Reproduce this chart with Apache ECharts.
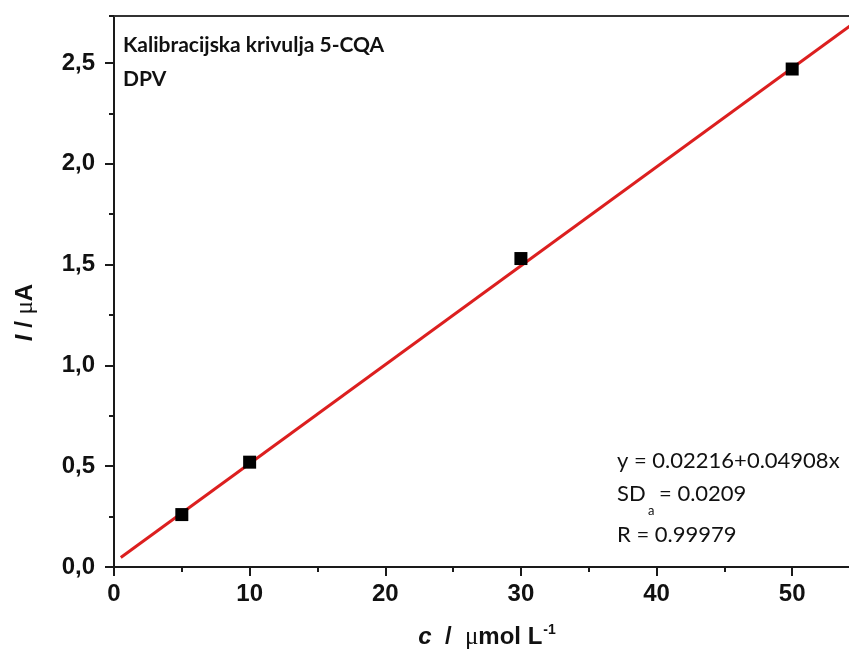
<!DOCTYPE html>
<html>
<head>
<meta charset="utf-8">
<script src="https://cdn.jsdelivr.net/npm/echarts@6/dist/echarts.min.js"></script>
<style>
  html, body { margin: 0; background: #fff; }
  #chart { width: 849px; height: 666px; }
</style>
</head>
<body>
<div id="chart"></div>
<script>
// measured points (c in umol/L, I in uA)
var concentrations = [5, 10, 30, 50];
var currents = [0.26, 0.52, 1.53, 2.47];
// ends of the fitted line
var fitX = [0.5, 55];
var fitY = [0.047, 2.72];

var titleLines = ["Kalibracijska krivulja 5-CQA", "DPV"];
var fitText = ["y = 0.02216+0.04908x", "SD", "a", "= 0.0209", "R = 0.99979"];

var axisColor = "#1a1a1a";
var labelFont = { fontFamily: "Liberation Sans", fontWeight: "bold", fontSize: 24, color: "#111" };

function comma(v) {
  return v.toFixed(1).replace(".", ",");
}

function pairs(xs, ys) {
  return xs.map(function (x, i) { return [x, ys[i]]; });
}

function note(text, x, y, font) {
  return {
    type: "text", x: x, y: y,
    style: { text: text, font: font, fill: "#111", verticalAlign: "middle" }
  };
}

var nameRich = {
  i: { fontFamily: "Liberation Sans", fontStyle: "italic", fontWeight: "bold", fontSize: 24, color: "#111" },
  n: { fontFamily: "Liberation Sans", fontWeight: "bold", fontSize: 24, color: "#111" },
  mu: { fontFamily: "Liberation Serif", fontSize: 25, color: "#111" },
  sup: { fontFamily: "Liberation Sans", fontWeight: "bold", fontSize: 14, color: "#111", padding: [0, 0, 15, 1] }
};

var chart = echarts.init(document.getElementById("chart"));
chart.setOption({
  animation: false,
  grid: { left: 114, right: -11, top: 16, bottom: 99, outerBoundsMode: "none", containLabel: false },
  xAxis: [
    {
      type: "value", position: "bottom", min: 0, max: 55, interval: 10,
      axisLine: { lineStyle: { color: axisColor, width: 2 } },
      axisTick: { length: 9, lineStyle: { color: axisColor, width: 2 } },
      splitLine: { show: false },
      axisLabel: Object.assign({ margin: 15, showMaxLabel: false }, labelFont),
      name: "{i|c}{n|  /  }{mu|μ}{n|mol L}{sup|-1}",
      nameLocation: "middle",
      nameGap: 56,
      nameTextStyle: { rich: nameRich }
    },
    {
      type: "value", position: "bottom", min: 0, max: 55, interval: 5,
      axisLine: { show: false },
      axisTick: { length: 5, lineStyle: { color: axisColor, width: 2 } },
      axisLabel: { show: false }, splitLine: { show: false }
    },
    {
      type: "value", position: "top", min: 0, max: 55,
      axisLine: { lineStyle: { color: "#333", width: 2 } },
      axisTick: { show: false }, axisLabel: { show: false }, splitLine: { show: false }
    }
  ],
  yAxis: [
    {
      type: "value", position: "left", min: 0, max: 2.733, interval: 0.5,
      axisLine: { lineStyle: { color: axisColor, width: 2 } },
      axisTick: { length: 9, lineStyle: { color: axisColor, width: 2 } },
      splitLine: { show: false },
      axisLabel: Object.assign({
        margin: 19,
        showMaxLabel: false,
        formatter: function (v) { return comma(v); }
      }, labelFont),
      name: "{i|I}{n| / }{mu|μ}{n|A}",
      nameLocation: "middle",
      nameGap: 76,
      nameRotate: 90,
      nameTextStyle: { rich: nameRich, padding: [0, 42, 0, 0] }
    },
    {
      type: "value", position: "left", min: 0, max: 2.733, interval: 0.25,
      axisLine: { show: false },
      axisTick: { length: 5, lineStyle: { color: axisColor, width: 2 } },
      axisLabel: { show: false }, splitLine: { show: false }
    }
  ],
  series: [
    {
      type: "line",
      data: pairs(fitX, fitY),
      symbol: "none",
      lineStyle: { color: "#dc1f1f", width: 3 },
      z: 2
    },
    {
      type: "scatter",
      data: pairs(concentrations, currents),
      symbol: "rect",
      symbolSize: 13,
      itemStyle: { color: "#000", opacity: 1 },
      z: 3
    }
  ],
  graphic: [
    note(titleLines[0], 123, 45, "bold 21px Lato"),
    note(titleLines[1], 123, 79, "bold 21px Lato"),
    note(fitText[0], 617, 461, "22px Lato"),
    note(fitText[1], 617, 494, "22px Lato"),
    note(fitText[2], 648, 511, "13px Lato"),
    note(fitText[3], 659, 494, "22px Lato"),
    note(fitText[4], 617, 535, "22px Lato")
  ]
});
</script>
</body>
</html>
